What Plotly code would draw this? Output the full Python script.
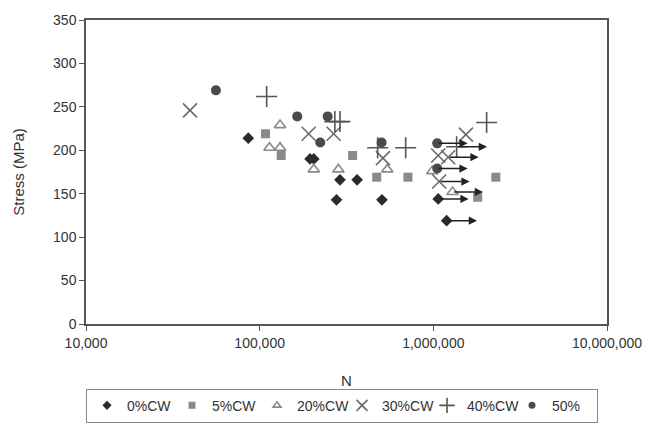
import math
import plotly.graph_objects as go

# ---- data (N cycles, stress MPa) ----
n_0 = [86000, 195000, 205000, 290000, 364000, 277000, 506000, 1067000, 1193000]
s_0 = [214, 190, 190, 166, 166, 143, 143, 144, 119]
run_0 = [7, 8]

n_5 = [108000, 133000, 343000, 472000, 714000, 1800000, 2290000]
s_5 = [219, 194, 194, 169, 169, 146, 169]
run_5 = []

n_20 = [131000, 114000, 131000, 205000, 284000, 543000, 986000, 1291000]
s_20 = [229, 203, 203, 178, 178, 178, 176, 152]
run_20 = [7]

n_30 = [39700, 191500, 266700, 512600, 1067000, 1218000, 1081000, 1540000]
s_30 = [246, 219, 219, 191, 194, 192, 164, 218]
run_30 = [5, 6]

n_40 = [109700, 271000, 290000, 478000, 693000, 1362000, 2027000]
s_40 = [262, 233, 233, 203, 203, 204, 232]
run_40 = [5]

n_50 = [56000, 164600, 223300, 246300, 503600, 1053000, 1053000]
s_50 = [269, 239, 209, 239, 209, 208, 179]
run_50 = [5, 6]

x_tickvals = [1e4, 1e5, 1e6, 1e7]
x_ticktext = ["10,000", "100,000", "1,000,000", "10,000,000"]
y_tickvals = [0, 50, 100, 150, 200, 250, 300, 350]

series = [
    ("0%CW", n_0, s_0, run_0, dict(symbol="diamond", size=9, color="#2b2b2b"), 7),
    ("5%CW", n_5, s_5, run_5, dict(symbol="square", size=9, color="#8a8a8a"), 7),
    ("20%CW", n_20, s_20, run_20, dict(symbol="triangle-up-open", size=10, color="#8a8a8a",
                                       line=dict(width=1.6, color="#8a8a8a")), 7),
    ("30%CW", n_30, s_30, run_30, dict(symbol="x-thin-open", size=14, color="#6a6a6a",
                                       line=dict(width=1.6, color="#6a6a6a")), 11),
    ("40%CW", n_40, s_40, run_40, dict(symbol="cross-thin-open", size=15, color="#555555",
                                       line=dict(width=1.6, color="#555555")), 11),
    ("50%", n_50, s_50, run_50, dict(symbol="circle", size=10, color="#4a4a4a"), 7),
]

ARROW_DECADES = 0.175

fig = go.Figure()
annotations = []
for name, n, s, runs, mk, legsize in series:
    fig.add_trace(go.Scatter(x=n, y=s, mode="markers", name=name, marker=mk, showlegend=False))
    # legend-only entry with a smaller symbol (no visible marks)
    leg_mk = dict(mk)
    leg_mk["size"] = legsize
    fig.add_trace(go.Scatter(x=[None], y=[None], mode="markers", name=name, marker=leg_mk,
                             showlegend=True))
    for i in runs:
        lx = math.log10(n[i])
        annotations.append(dict(
            x=lx + ARROW_DECADES, y=s[i], ax=lx, ay=s[i],
            xref="x", yref="y", axref="x", ayref="y",
            showarrow=True, arrowhead=2, arrowsize=1.1, arrowwidth=1.5,
            arrowcolor="#222222", text="", standoff=0, startstandoff=0,
        ))

axis_line = "#555555"
fig.update_layout(
    width=669, height=435,
    margin=dict(l=86, r=62, t=16, b=111),
    paper_bgcolor="white", plot_bgcolor="white",
    font=dict(family="Liberation Sans, Arial, sans-serif", size=14, color="#333333"),
    showlegend=True,
    legend=dict(
        orientation="h", x=0.0, xanchor="left", y=-0.213, yanchor="top",
        bordercolor="#888888", borderwidth=1, font=dict(size=14, color="#333333"),
        itemwidth=30, tracegroupgap=0, entrywidth=40,
    ),
    annotations=annotations,
)
fig.update_xaxes(
    type="log", range=[4, 7], tickvals=x_tickvals, ticktext=x_ticktext,
    showgrid=False, zeroline=False, showline=True, linecolor=axis_line, linewidth=1.5,
    mirror=True, ticks="outside", ticklen=5, tickcolor=axis_line, tickwidth=1.2,
    title=dict(text="N", standoff=26, font=dict(size=15)),
)
fig.update_yaxes(
    range=[0, 350], tickvals=y_tickvals,
    showgrid=False, zeroline=False, showline=True, linecolor=axis_line, linewidth=1.5,
    mirror=True, ticks="outside", ticklen=5, tickcolor=axis_line, tickwidth=1.2,
    title=dict(text="Stress (MPa)", standoff=25, font=dict(size=15)),
)

fig.write_html("out.html")
